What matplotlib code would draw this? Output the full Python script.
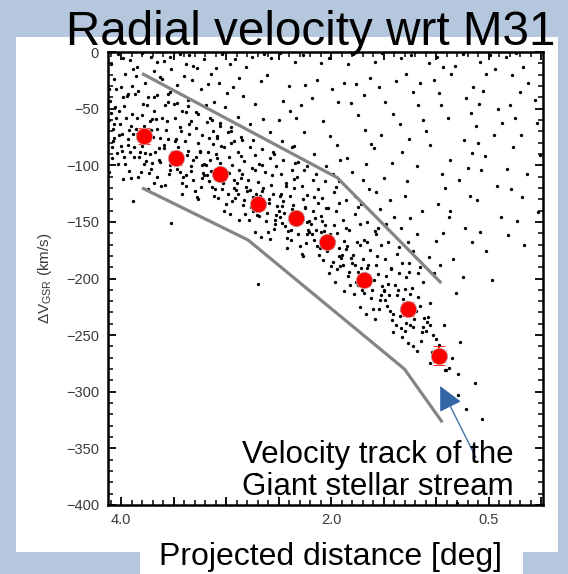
import numpy as np
import matplotlib
matplotlib.use("Agg")
import matplotlib.pyplot as plt
from matplotlib.patches import Rectangle
from matplotlib.ticker import MultipleLocator

plt.rcParams['font.family'] = ['Liberation Sans', 'DejaVu Sans']
plt.rcParams['mathtext.fontset'] = 'custom'
plt.rcParams['mathtext.rm'] = 'Liberation Sans'
plt.rcParams['mathtext.it'] = 'Liberation Sans:italic'

# ---------------- data (projected distance [deg], velocity [km/s]) ----------------
title = "Radial velocity wrt M31"
xlabel = "Projected distance [deg]"
ylabel = "ΔV$_{\\mathrm{GSR}}$ (km/s)"
note = "Velocity track of the\nGiant stellar stream"

xtick_values = [4.0, 2.0, 0.5]
xtick_labels = ["4.0", "2.0", "0.5"]

# mean velocity track (red points)
track_dist = [3.78, 3.48, 3.06, 2.70, 2.33, 2.04, 1.69, 1.27, 0.97]
track_vel = [-74, -94, -108, -134, -147, -168, -201, -227, -268]
track_err = [7, 6, 5, 5, 5, 5, 5, 6, 8]

# gray envelope lines
upper_dist = [3.80, 1.94, 0.95]
upper_vel = [-19, -111, -204]
lower_dist = [3.80, 2.79, 1.30, 0.94]
lower_vel = [-120, -166, -280, -327]

# arrow (tip, tail)
arrow_tip = (0.96, -295)
arrow_tail = (0.62, -358)

# stream stars: western clump
stream_clump = [
    (4.105, -43), (4.08, -79), (4.115, -60), (4.09, -94), (4.075, -68), (4.11, -106), (4.095, -54), (4.085, -84),
    (4.05, -33), (4.02, -73), (4.068, -64), (4.038, -89), (4.058, -49), (4.028, -99), (4.048, -58), (4.063, -76),
    (3.983, -40), (4.003, -83), (3.993, -72), (3.973, -93), (4.005, -64), (3.98, -112), (4.015, -52), (3.99, -87),
    (3.925, -69), (3.96, -99), (3.945, -39), (3.935, -82), (3.95, -58), (3.92, -105), (3.968, -48), (3.938, -77),
    (3.908, -65), (3.878, -93), (3.898, -30), (3.913, -88), (3.883, -72), (3.903, -111), (3.893, -55), (3.873, -84),
    (3.845, -72), (3.835, -110), (3.85, -58), (3.82, -88), (3.868, -37), (3.838, -77), (3.858, -68), (3.828, -93),
    (3.798, -56), (3.813, -106), (3.783, -65), (3.803, -83), (3.793, -46), (3.773, -89), (3.805, -78), (3.78, -99),
    (3.765, -73), (3.74, -121), (3.725, -61), (3.76, -96), (3.745, -77), (3.735, -107), (3.75, -47), (3.72, -90),
    (3.718, -69), (3.688, -116), (3.708, -59), (3.678, -88), (3.698, -75), (3.713, -103), (3.683, -40), (3.703, -98),
    (3.643, -85), (3.623, -118), (3.655, -68), (3.63, -97), (3.665, -59), (3.64, -95), (3.625, -76), (3.66, -110),
]

# stream stars: 3.6 - 2.5 deg
stream_mid1 = [
    (3.57, -69), (3.52, -96), (3.59, -82), (3.54, -108), (3.51, -88), (3.58, -117), (3.55, -77), (3.53, -100), (3.56, -61), (3.50, -92), (3.595, -85), (3.535, -104),
    (3.475, -77), (3.415, -116), (3.455, -84), (3.485, -98), (3.425, -70), (3.465, -103), (3.445, -94), (3.405, -110), (3.47, -88), (3.42, -125), (3.49, -79), (3.44, -106),
    (3.31, -95), (3.38, -118), (3.35, -72), (3.33, -105), (3.36, -87), (3.30, -123), (3.395, -79), (3.335, -101), (3.375, -91), (3.315, -113), (3.355, -64), (3.385, -109),
    (3.225, -100), (3.265, -130), (3.245, -87), (3.205, -109), (3.27, -80), (3.22, -107), (3.29, -93), (3.24, -119), (3.21, -99), (3.28, -128), (3.25, -88), (3.23, -111),
    (3.16, -76), (3.10, -107), (3.195, -100), (3.135, -119), (3.175, -88), (3.115, -127), (3.155, -95), (3.185, -109), (3.125, -81), (3.165, -114), (3.145, -105), (3.105, -121),
    (3.07, -103), (3.02, -140), (3.09, -94), (3.04, -121), (3.01, -106), (3.08, -129), (3.05, -83), (3.03, -116), (3.06, -98), (3.00, -134), (3.095, -90), (3.035, -112),
    (2.975, -107), (2.915, -129), (2.955, -80), (2.985, -125), (2.925, -113), (2.965, -143), (2.945, -100), (2.905, -122), (2.97, -93), (2.92, -120), (2.99, -106), (2.94, -132),
    (2.81, -119), (2.88, -148), (2.85, -108), (2.83, -131), (2.86, -92), (2.80, -123), (2.895, -116), (2.835, -135), (2.875, -104), (2.815, -143), (2.855, -111), (2.885, -125),
    (2.725, -104), (2.765, -137), (2.745, -128), (2.705, -144), (2.77, -122), (2.72, -159), (2.79, -113), (2.74, -140), (2.71, -125), (2.78, -148), (2.75, -102), (2.73, -135),
    (2.66, -123), (2.60, -159), (2.695, -115), (2.635, -137), (2.675, -127), (2.615, -149), (2.655, -100), (2.685, -145), (2.625, -133), (2.665, -163), (2.645, -120), (2.605, -142),
]

# stream stars: 2.6 - 1.6 deg
stream_mid2 = [
    (2.57, -117), (2.52, -144), (2.59, -130), (2.54, -156), (2.51, -136), (2.58, -165), (2.55, -125), (2.53, -148), (2.56, -109), (2.50, -140), (2.595, -133), (2.535, -152),
    (2.475, -125), (2.415, -164), (2.455, -132), (2.485, -146), (2.425, -118), (2.465, -151), (2.445, -142), (2.405, -158), (2.47, -136), (2.42, -173), (2.49, -127), (2.44, -154),
    (2.31, -143), (2.38, -166), (2.35, -120), (2.33, -153), (2.36, -135), (2.30, -171), (2.395, -127), (2.335, -149), (2.375, -139), (2.315, -161), (2.355, -112), (2.385, -157),
    (2.225, -150), (2.265, -180), (2.245, -137), (2.205, -159), (2.27, -130), (2.22, -157), (2.29, -143), (2.24, -169), (2.21, -149), (2.28, -178), (2.25, -138), (2.23, -161),
    (2.16, -128), (2.10, -159), (2.195, -152), (2.135, -171), (2.175, -140), (2.115, -179), (2.155, -147), (2.185, -161), (2.125, -133), (2.165, -166), (2.145, -157), (2.105, -173),
    (2.07, -158), (2.02, -195), (2.09, -149), (2.04, -176), (2.01, -161), (2.08, -184), (2.05, -138), (2.03, -171), (2.06, -153), (2.00, -189), (2.095, -145), (2.035, -167),
    (1.975, -167), (1.915, -189), (1.955, -140), (1.985, -185), (1.925, -173), (1.965, -203), (1.945, -160), (1.905, -182), (1.97, -153), (1.92, -180), (1.99, -166), (1.94, -192),
    (1.81, -182), (1.88, -211), (1.85, -171), (1.83, -194), (1.86, -155), (1.80, -186), (1.895, -179), (1.835, -198), (1.875, -167), (1.815, -206), (1.855, -174), (1.885, -188),
    (1.725, -170), (1.765, -203), (1.745, -194), (1.705, -210), (1.77, -188), (1.72, -225), (1.79, -179), (1.74, -206), (1.71, -191), (1.78, -214), (1.75, -168), (1.73, -201),
    (1.66, -191), (1.60, -227), (1.695, -183), (1.635, -205), (1.675, -195), (1.615, -217), (1.655, -168), (1.685, -213), (1.625, -201), (1.665, -231), (1.645, -188), (1.605, -210),
]

# stream stars: inner part (< 1.6 deg)
stream_inner = [
    (1.57, -188), (1.52, -215), (1.59, -201), (1.54, -227), (1.51, -207), (1.58, -236), (1.55, -196), (1.53, -219), (1.56, -180), (1.50, -211),
    (1.495, -210), (1.435, -229), (1.475, -198), (1.415, -237), (1.455, -205), (1.485, -219), (1.425, -191), (1.465, -224), (1.445, -215), (1.405, -231),
    (1.37, -215), (1.32, -252), (1.39, -206), (1.34, -233), (1.31, -218), (1.38, -241), (1.35, -195), (1.33, -228), (1.36, -210), (1.30, -246),
    (1.295, -209), (1.235, -231), (1.275, -221), (1.215, -243), (1.255, -194), (1.285, -239), (1.225, -227), (1.265, -257), (1.245, -214), (1.205, -236),
    (1.17, -216), (1.12, -243), (1.19, -229), (1.14, -255), (1.11, -235), (1.18, -264), (1.15, -224), (1.13, -247),
    (1.06, -222), (1.00, -253), (1.095, -246), (1.035, -265), (1.075, -234), (1.015, -273), (1.055, -241),
    (0.985, -269), (0.925, -241), (0.965, -274), (0.945, -265), (0.905, -281), (0.97, -259),
    (1.41, -247), (1.33, -244), (1.25, -241), (1.09, -238), (1.03, -250), (0.77, -256), (1.22, -260),
    (1.06, -275), (0.91, -281), (0.88, -279), (0.79, -284), (0.63, -292), (0.79, -303), (0.71, -315),
    (0.56, -324), (0.85, -270),
]

# stream halo between the upper envelope and the main band
stream_halo = [
    (3.66, -38), (3.58, -47), (3.53, -35), (3.69, -52), (3.61, -58), (3.55, -44),
    (3.47, -45), (3.38, -53), (3.33, -61), (3.44, -66), (3.36, -48), (3.49, -58),
    (3.27, -55), (3.18, -62), (3.12, -70), (3.23, -73), (3.15, -58), (3.29, -67),
    (3.06, -65), (2.98, -71), (2.92, -79), (3.02, -84), (2.95, -66), (3.09, -76),
    (2.86, -75), (2.77, -84), (2.72, -91), (2.83, -96), (2.74, -78), (2.89, -88),
    (2.66, -86), (2.58, -94), (2.52, -101), (2.63, -106), (2.55, -88), (2.69, -99),
    (2.46, -95), (2.37, -104), (2.32, -110), (2.43, -116), (2.34, -98), (2.48, -108),
    (2.26, -104), (2.17, -113), (2.12, -121), (2.23, -126), (2.14, -108), (2.28, -118),
    (2.06, -114), (1.97, -124), (1.92, -133), (2.03, -138), (1.95, -119), (2.09, -129),
    (1.86, -131), (1.77, -143), (1.72, -152), (1.83, -157), (1.74, -137), (1.89, -148),
    (1.66, -150), (1.57, -161), (1.52, -170), (1.63, -175), (1.55, -155), (1.69, -166),
    (1.46, -168), (1.37, -178), (1.32, -186), (1.43, -192), (1.35, -172), (1.49, -183),
    (1.26, -186), (1.17, -195), (1.12, -203), (1.23, -208), (1.15, -190), (1.29, -199),
]

# sparse stars below the lower envelope
sparse_low = [(3.89, -132), (3.52, -151), (2.70, -205), (0.80, -398), (2.71, -373)]

# foreground / halo field stars
field_west = [
    (4.03, -2), (3.91, -7), (4.10, -11), (3.96, -19), (4.07, -24), (3.89, -15), (4.00, -31), (3.93, -37), (4.11, -33), (3.98, -5),
    (3.80, -1), (3.66, -9), (3.85, -13), (3.71, -4), (3.63, -22), (3.77, -27), (3.69, -17), (3.84, -34), (3.74, -40), (3.86, -21),
    (3.59, -8), (3.44, -2), (3.52, -15), (3.38, -11), (3.61, -24), (3.47, -29), (3.55, -37), (3.40, -21), (3.50, -46), (3.42, -52), (3.53, -4),
    (3.35, -3), (3.21, -6), (3.28, -14), (3.14, -19), (3.32, -25), (3.24, -33), (3.17, -28), (3.36, -42), (3.19, -47), (3.29, -53), (3.13, -60), (3.31, -12),
    (3.04, -2), (2.91, -6), (3.10, -14), (2.96, -11), (2.88, -23), (3.07, -27), (2.99, -36), (2.93, -31), (3.11, -44), (3.01, -49), (2.89, -57), (3.06, -63), (2.95, -70), (3.09, -74),
]
field_centre = [
    (2.75, -4), (2.64, -2), (2.81, -13), (2.67, -26), (2.84, -39), (2.72, -46), (2.65, -59), (2.77, -64), (2.85, -78),
    (2.49, -1), (2.57, -5), (2.61, -20), (2.40, -30), (2.46, -43), (2.39, -52), (2.50, -60), (2.58, -71), (2.47, -79), (2.37, -84), (2.54, -90),
    (2.27, -3), (2.34, -9), (2.13, -25), (2.25, -29), (2.18, -41), (2.29, -47), (2.33, -58), (2.26, -71), (2.35, -83), (2.16, -90), (2.31, -97), (2.23, -101),
    (2.02, -5), (2.10, -10), (1.88, -27), (1.99, -33), (1.93, -44), (2.08, -61), (2.01, -74), (1.94, -82), (1.91, -95), (2.05, -101), (1.98, -108), (1.92, -114),
    (1.79, -2), (1.84, -11), (1.63, -23), (1.76, -28), (1.69, -38), (1.81, -45), (1.74, -56), (1.68, -69), (1.62, -81), (1.85, -94), (1.67, -99), (1.80, -106), (1.70, -113), (1.64, -121), (1.77, -127), (1.71, -134),
]
field_east = [
    (1.51, -1), (1.58, -9), (1.38, -26), (1.54, -31), (1.49, -44), (1.41, -55), (1.52, -73), (1.59, -85), (1.42, -98), (1.50, -111), (1.57, -124), (1.44, -131), (1.53, -139), (1.40, -146), (1.48, -152), (1.58, -158),
    (1.24, -3), (1.33, -5), (1.29, -19), (1.15, -27), (1.22, -35), (1.17, -47), (1.12, -60), (1.34, -64), (1.26, -77), (1.32, -88), (1.18, -101), (1.28, -114), (1.30, -127), (1.13, -140), (1.25, -147), (1.33, -155), (1.18, -161), (1.27, -168), (1.22, -176),
    (0.99, -4), (1.07, -10), (0.93, -13), (1.02, -25), (0.97, -36), (0.95, -47), (0.89, -58), (1.10, -70), (1.06, -82), (0.87, -95), (0.94, -108), (0.91, -120), (0.98, -134), (0.88, -146), (0.93, -160), (1.00, -167), (1.07, -181), (0.96, -188), (1.02, -195),
    (0.74, -2), (0.82, -12), (0.86, -19), (0.65, -31), (0.71, -41), (0.67, -54), (0.62, -65), (0.73, -78), (0.66, -89), (0.70, -102), (0.78, -113), (0.68, -127), (0.87, -140), (0.72, -155), (0.66, -168), (0.84, -183), (0.74, -199), (0.81, -213),
    (0.49, -3), (0.58, -9), (0.44, -15), (0.52, -19), (0.55, -34), (0.59, -46), (0.41, -50), (0.37, -63), (0.45, -73), (0.60, -80), (0.53, -92), (0.57, -104), (0.42, -118), (0.61, -131), (0.38, -146), (0.58, -159), (0.52, -176), (0.47, -201),
    (0.24, -1), (0.33, -4), (0.17, -13), (0.28, -20), (0.12, -27), (0.20, -35), (0.06, -42), (0.30, -47), (0.25, -58), (0.04, -63), (0.19, -73), (0.27, -84), (0.01, -91), (0.32, -103), (0.13, -108), (0.29, -121), (0.18, -128), (0.03, -141), (0.23, -149), (0.31, -162), (0.16, -170),
]

# ---------------- figure ----------------
BLUE_BG = "#b4c7dc"
fig = plt.figure(figsize=(5.68, 5.74), dpi=100, facecolor=BLUE_BG)

# white slide panels
fig.add_artist(Rectangle((16 / 568, 1 - 552 / 574), (558 - 16) / 568, (552 - 37) / 574,
                         transform=fig.transFigure, facecolor="white", edgecolor="none", zorder=-5))
fig.add_artist(Rectangle((140 / 568, 0), (523 - 140) / 568, 1 - 552 / 574 + 0.002,
                         transform=fig.transFigure, facecolor="white", edgecolor="none", zorder=-5))

ax = fig.add_axes([108 / 568, 1 - 505 / 574, (543 - 108) / 568, (505 - 52) / 574])
ax.set_facecolor("white")

stars = np.array(stream_clump + stream_mid1 + stream_mid2 + stream_inner + stream_halo + sparse_low
                 + field_west + field_centre + field_east, dtype=float)
ax.plot(stars[:, 0], stars[:, 1], 'o', color='black', ms=2.4, mew=0, zorder=2)

ax.plot(upper_dist, upper_vel, color='#858585', lw=2.3, solid_capstyle='butt', zorder=3)
ax.plot(lower_dist, lower_vel, color='#858585', lw=2.3, solid_capstyle='butt', zorder=3)

ax.errorbar(track_dist, track_vel, yerr=track_err, fmt='o', color='red', ms=11.8,
            mec='#c8a0a0', mew=0.6, ecolor='red', elinewidth=1.5, capsize=4.5, capthick=1.5, zorder=4)

ax.annotate("", xy=arrow_tip, xytext=arrow_tail,
            arrowprops=dict(arrowstyle='-|>,head_length=1.5,head_width=0.75', color='#3465a4',
                            lw=0.9, mutation_scale=10, shrinkA=0, shrinkB=0), zorder=5)

ax.set_xlim(4.124, -0.019)
ax.set_ylim(-400, 0)

ax.xaxis.set_major_locator(MultipleLocator(0.5))
ax.xaxis.set_minor_locator(MultipleLocator(0.1))
ax.yaxis.set_major_locator(MultipleLocator(50))
ax.yaxis.set_minor_locator(MultipleLocator(10))

def xfmt(v, pos):
    for tv, tl in zip(xtick_values, xtick_labels):
        if abs(v - tv) < 1e-6:
            return tl
    return ""
ax.xaxis.set_major_formatter(plt.FuncFormatter(xfmt))

for s in ax.spines.values():
    s.set_linewidth(1.8)
ax.tick_params(which='both', direction='in', top=True, right=True, colors='black',
               labelcolor='#3a3a3a', labelsize=10.5)
ax.tick_params(which='major', length=6, width=1.3)
ax.tick_params(which='minor', length=3.5, width=1.1)
ax.tick_params(axis='y', pad=6.5)
ax.tick_params(axis='x', pad=5.5)

fig.text(44.5 / 568, 1 - 278 / 574, ylabel, rotation=90, ha='center', va='center',
         fontsize=11, color='#3a3a3a')

fig.text(311 / 568, 1 - 45 / 574, title, ha='center', va='baseline', fontsize=34.3,
         color='black', zorder=10)
fig.text(330.5 / 568, 1 - 565 / 574, xlabel, ha='center', va='baseline', fontsize=23,
         color='black', zorder=10)

fig.text(378 / 568, 1 - 495 / 574, note, ha='center', va='baseline', fontsize=22.5,
         color='black', linespacing=1.07, multialignment='center', zorder=10)

fig.savefig("out.png", dpi=100, facecolor=BLUE_BG)
